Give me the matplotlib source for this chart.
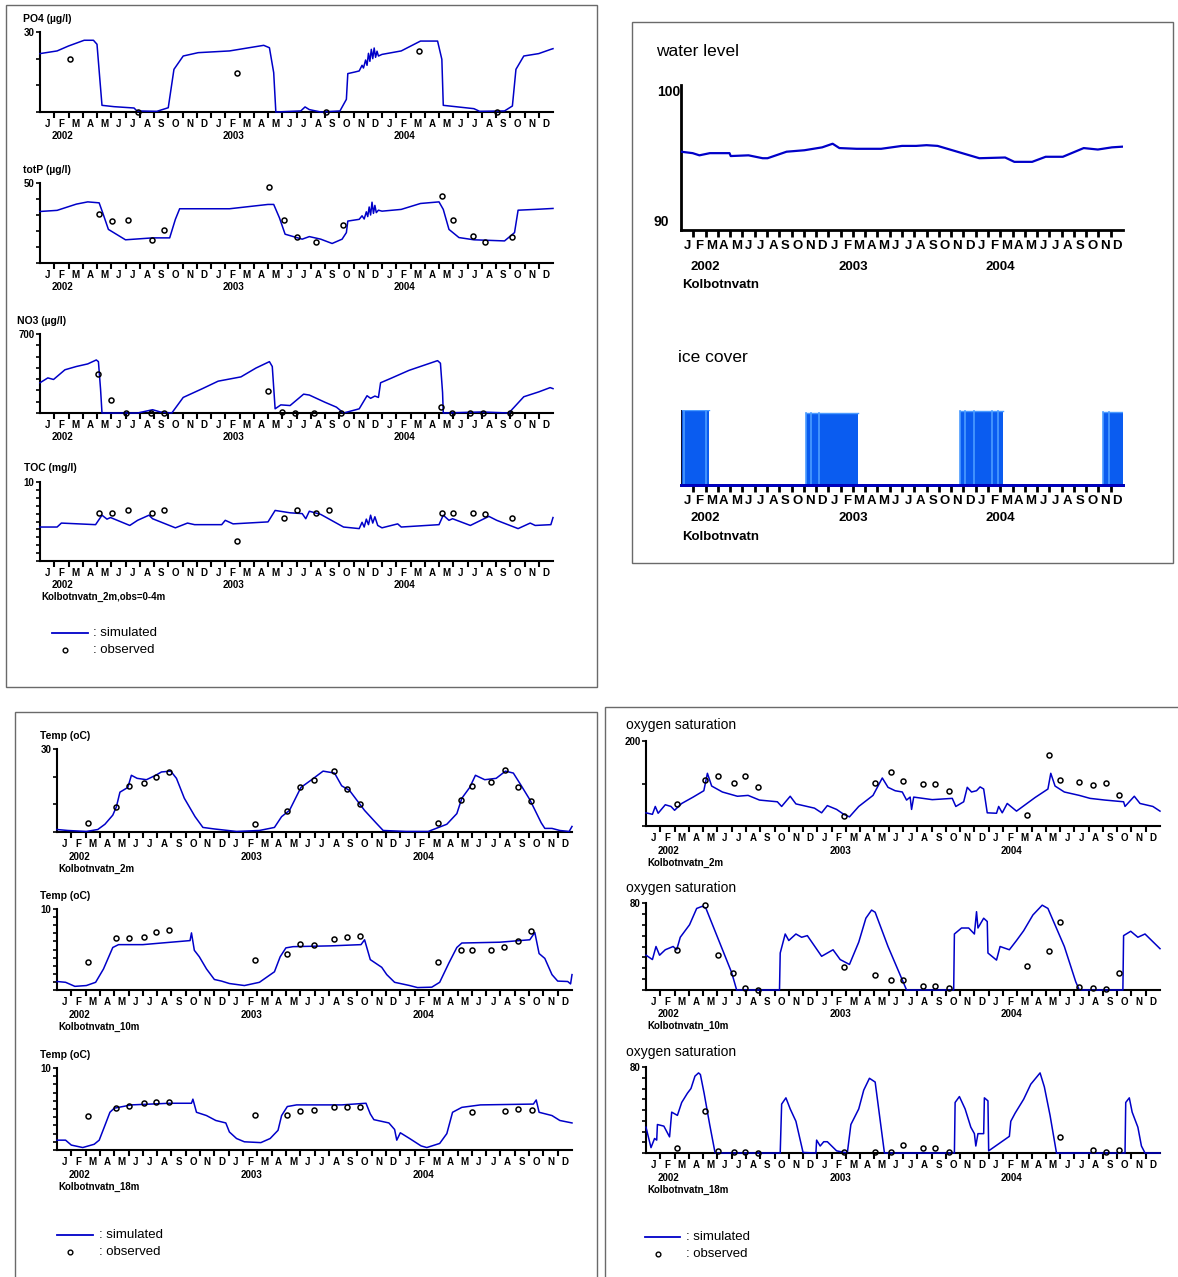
import matplotlib
matplotlib.use("Agg")
import matplotlib.pyplot as plt
from matplotlib.patches import Rectangle
from matplotlib.lines import Line2D
import numpy as np

# ── Canvas ────────────────────────────────────────────────────────────────────
W, H = 1178, 1277
BLUE = "#0000C8"
ICE = "#0A5CF0"
ICE_LIGHT = "#4C9CFF"
FONT = ["Liberation Sans", "DejaVu Sans"]
NARROW = ["Liberation Sans Narrow", "Liberation Sans", "DejaVu Sans"]

MONTHS = list("JFMAMJJASOND") * 3
YEARS = ["2002", "2003", "2004"]

# ── Data (time in months since 1 Jan 2002) ───────────────────────────────────
PO4_T = [0, 1.2, 2.0, 3.1, 3.75, 4.0, 4.2, 4.35, 5.2, 6.6, 6.8, 8.2, 9.0, 9.4, 10.05,
         11.1, 13.3, 15.7, 16.1, 16.4, 16.55, 18.3, 18.6, 18.9, 19.7, 21.05, 21.5, 21.6,
         22.1, 22.4, 22.6, 22.7, 22.85, 22.95, 23.05, 23.15, 23.25, 23.35, 23.45, 23.55,
         23.65, 23.75, 24.0, 25.35, 26.7, 27.9, 28.2, 28.3, 30.45, 30.85, 32.6, 33.15,
         33.4, 33.95, 35.0, 35.85, 36.0]
PO4_V = [21.9, 22.9, 24.75, 26.9, 26.9, 25.4, 12.25, 2.5, 2.0, 1.5, 0.4, 0.25, 1.6, 16,
         21, 22.25, 22.9, 25, 24.1, 14.75, 0, 0.4, 1.9, 0.9, 0, 0.4, 4.75, 14.4,
         15.0, 15.4, 17.5, 16.5, 19.5, 17.5, 22.0, 19.0, 23.5, 20.0, 24.0, 20.5,
         22.8, 21.0, 21.6, 22.9, 26.6, 26.6, 19.75, 2.5, 1.25, 0.25, 0.4, 2.25,
         16, 21, 21.9, 23.5, 23.75]
PO4_OBS_T = [2.1, 6.85, 13.8, 20.1, 26.6, 32.05]
PO4_OBS_V = [20, 0, 14.75, 0, 23, 0]

TOTP_T = [0, 1.2, 2.55, 3.35, 4.15, 4.4, 4.8, 6.0, 7.9, 9.1, 9.5, 9.8, 13.3, 16.0, 16.4,
          16.8, 17.2, 18.4, 18.9, 19.7, 20.5, 21.2, 21.5, 21.6, 22.4, 22.6, 22.75, 22.9,
          23.0, 23.1, 23.2, 23.3, 23.4, 23.5, 23.6, 23.75, 24.0, 25.35, 26.7, 28.0, 28.3,
          28.7, 29.4, 30.45, 32.6, 33.3, 33.55, 34.75, 36.0]
TOTP_V = [32.2, 32.9, 36.8, 38.2, 37.6, 31.4, 21, 14.5, 15.7, 15.7, 27.3, 33.9, 33.9,
          36.6, 36.6, 28.3, 18, 14.9, 16.5, 14.9, 12.2, 14.9, 19, 26.2, 27.3, 29.5, 27.5,
          32, 29, 35, 30, 38, 31, 36, 31.5, 33, 32.4, 33.5, 37.2, 38.2, 33.5, 21, 15.9,
          14.5, 13.8, 19, 33, 33.5, 34.1]
TOTP_OBS_T = [4.15, 5.05, 6.2, 7.85, 8.7, 16.1, 17.1, 18.0, 19.4, 21.25, 28.2, 29.0,
              30.4, 31.25, 33.1]
TOTP_OBS_V = [30.4, 26, 27, 14.5, 20.5, 47.3, 27, 16, 13.2, 23.8, 41.7, 27, 17, 13.2, 16]

NO3_T = [0, 0.55, 0.95, 1.75, 2.55, 3.35, 3.95, 4.1, 4.25, 4.35, 6.85, 7.9, 8.45, 9.25,
         10.05, 11.4, 12.5, 14.1, 15.15, 16.1, 16.3, 16.5, 16.9, 17.55, 18.5, 18.9, 20.0,
         20.8, 21.3, 22.4, 22.95, 23.2, 23.5, 23.75, 23.9, 24.55, 25.9, 27.9, 28.1, 28.25,
         28.3, 31.0, 32.9, 33.95, 35.0, 35.8, 36.0]
NO3_V = [268, 311, 297, 383, 412, 435, 470, 455, 210, 0, 0, 29, 9, 0, 138, 216, 282, 320,
         398, 455, 412, 37, 72, 66, 167, 159, 95, 52, 0, 37, 153, 130, 150, 138, 268, 303,
         378, 464, 441, 182, 0, 9, 0, 144, 187, 225, 216]
NO3_OBS_T = [4.1, 4.95, 6.05, 7.8, 8.7, 16.0, 17.0, 17.9, 19.2, 21.1, 28.15, 28.9, 30.2,
             31.1, 33.0]
NO3_OBS_V = [349, 118, 0, 0, 0, 193, 9, 0, 0, 0, 49, 0, 0, 0, 0]

TOC_T = [0, 1.2, 1.5, 3.9, 4.35, 4.7, 4.95, 6.3, 6.85, 7.65, 7.9, 9.5, 10.35, 10.85,
         12.75, 13.0, 13.55, 16.0, 16.5, 17.55, 18.4, 18.65, 18.9, 19.7, 21.3, 22.4, 22.6,
         22.75, 22.9, 23.05, 23.2, 23.35, 23.5, 23.7, 24.0, 25.1, 25.35, 28.0, 28.3, 28.7,
         28.95, 30.2, 31.5, 32.05, 33.55, 34.4, 34.75, 35.85, 36.0]
TOC_V = [4.3, 4.3, 4.8, 4.6, 5.8, 5.3, 5.5, 4.5, 5.15, 5.8, 5.35, 4.2, 4.8, 4.6, 4.6,
         5.15, 4.7, 4.95, 6.4, 6.1, 6.0, 5.35, 6.3, 5.9, 4.3, 4.1, 4.9, 4.3, 5.3, 4.6, 5.8,
         4.8, 5.6, 4.5, 4.2, 4.7, 4.3, 4.6, 5.8, 5.15, 5.35, 4.5, 5.65, 5.15, 4.1, 4.8, 4.5,
         4.6, 5.5]
TOC_OBS_T = [4.15, 5.05, 6.2, 7.85, 8.7, 13.85, 17.1, 18.0, 19.4, 20.25, 28.2, 29.0, 30.4,
             31.25, 33.1]
TOC_OBS_V = [6.1, 6.1, 6.5, 6.1, 6.45, 2.5, 5.45, 6.5, 6.05, 6.5, 6.05, 6.1, 6.1, 6.0, 5.45]

WL_T = [0, 0.95, 1.5, 2.35, 3.95, 4.05, 5.5, 6.65, 7.05, 8.6, 10.05, 11.5, 12.35, 12.9,
        14.3, 16.3, 18.0, 19.15, 20.0, 20.9, 22.3, 24.3, 26.4, 27.15, 28.6, 29.7, 31.1,
        32.8, 33.95, 35.1, 36.0]
WL_V = [95.4, 95.3, 95.15, 95.3, 95.3, 95.1, 95.15, 94.95, 94.95, 95.4, 95.5, 95.7, 95.95,
        95.65, 95.6, 95.6, 95.8, 95.8, 95.85, 95.8, 95.45, 94.95, 95.0, 94.7, 94.7, 95.05,
        95.05, 95.65, 95.55, 95.7, 95.75]

ICE_START = [0.0, 10.2, 22.7, 34.35]
ICE_END = [2.3, 14.4, 26.25, 36.0]
ICE_LEVEL = [1.0, 0.96, 0.99, 0.975]
ICE_STRIPES = [0.25, 2.0, 10.55, 11.25, 23.15, 23.9, 25.35, 25.8, 34.85]

T2_T = [0, 0.75, 2.05, 2.85, 3.35, 3.9, 4.15, 4.4, 4.95, 5.2, 5.6, 6.25, 6.9, 7.3, 7.95,
        8.35, 8.9, 9.65, 10.2, 11.0, 12.55, 14.15, 15.2, 15.7, 16.25, 17.05, 17.8, 18.6,
        19.4, 19.9, 20.45, 21.5, 22.3, 22.8, 24.4, 25.95, 27.25, 27.95, 28.3, 28.85, 29.25,
        29.9, 30.7, 31.35, 31.9, 32.4, 33.05, 33.85, 34.1, 34.6, 35.15, 35.8, 36.0]
T2_V = [0.9, 0.55, 0.2, 0.9, 2.8, 6.1, 9.1, 14.4, 16.1, 20.5, 19.4, 18.9, 20.5, 21.7, 22.0,
        19.4, 12.2, 5.55, 1.65, 1.1, 0.2, 0.55, 1.65, 5.55, 7.8, 16.1, 18.9, 22.0, 21.3,
        16.7, 15.0, 7.8, 3.3, 0.55, 0.2, 0.2, 2.8, 6.65, 12.2, 16.1, 20.5, 18.9, 19.4, 22.0,
        21.3, 17.2, 11.7, 3.3, 1.3, 1.3, 0.55, 0.2, 2.0]
T2_OBS_T = [2.15, 4.15, 5.0, 6.1, 6.9, 7.85, 13.85, 16.05, 17.0, 17.95, 19.35, 20.25, 21.2,
            26.6, 28.25, 29.0, 30.35, 31.35, 32.25, 33.1]
T2_OBS_V = [3.1, 9.1, 16.7, 17.6, 19.8, 21.7, 2.9, 7.55, 16.4, 18.7, 21.9, 15.55, 10.2,
            3.1, 11.7, 16.7, 18.0, 22.4, 16.1, 11.1]

T10_T = [0, 0.6, 1.25, 2.05, 2.7, 3.25, 3.9, 4.3, 6.0, 7.3, 9.3, 9.4, 9.6, 9.95, 10.45,
         11.0, 11.5, 12.05, 13.1, 14.15, 15.2, 15.6, 16.0, 16.5, 19.15, 21.25, 21.5, 21.9,
         22.7, 23.05, 23.6, 24.65, 25.2, 26.2, 26.75, 27.4, 27.95, 28.3, 30.95, 33.05, 33.4,
         33.7, 34.1, 34.6, 35.0, 35.7, 35.9, 36.0]
T10_V = [1.05, 0.95, 0.45, 0.55, 0.95, 2.6, 5.25, 5.6, 5.6, 5.8, 6.1, 7.05, 4.9, 4.1, 2.6,
         1.3, 1.1, 0.8, 0.55, 0.95, 2.25, 4.1, 5.2, 5.35, 5.45, 5.6, 6.2, 3.75, 2.8, 1.9,
         0.95, 0.55, 0.3, 0.35, 0.95, 3.35, 5.25, 5.8, 5.9, 6.2, 7.1, 4.5, 3.9, 1.9, 1.1,
         1.05, 0.75, 1.9]
T10_OBS_T = [2.15, 4.15, 5.0, 6.1, 6.9, 7.85, 13.85, 16.05, 17.0, 17.95, 19.35, 20.25,
             21.2, 26.6, 28.25, 29.0, 30.35, 31.25, 32.25, 33.1]
T10_OBS_V = [3.5, 6.45, 6.45, 6.55, 7.1, 7.4, 3.65, 4.5, 5.7, 5.55, 6.3, 6.55, 6.65, 3.4,
             4.9, 4.95, 4.95, 5.3, 6.05, 7.3]

T18_T = [0, 0.6, 1.0, 1.8, 2.6, 2.95, 3.35, 3.7, 4.0, 5.2, 7.85, 9.4, 9.5, 9.75, 10.45,
         11.1, 11.8, 12.05, 12.55, 13.1, 14.25, 14.9, 15.45, 15.7, 16.1, 16.75, 19.9, 21.6,
         21.9, 22.15, 23.2, 23.6, 23.75, 24.0, 24.65, 25.45, 25.85, 26.75, 27.25, 27.65,
         28.3, 29.6, 33.3, 33.5, 33.7, 34.6, 35.15, 36.0]
T18_V = [1.2, 1.2, 0.6, 0.3, 0.7, 1.2, 3.0, 4.6, 5.1, 5.5, 5.7, 5.7, 6.2, 4.6, 4.2, 3.6,
         3.3, 2.2, 1.4, 1.0, 0.9, 1.4, 2.4, 4.2, 5.3, 5.5, 5.5, 5.7, 4.4, 3.7, 3.3, 2.5,
         1.2, 2.1, 1.4, 0.5, 0.3, 0.8, 2.0, 4.6, 5.2, 5.5, 5.6, 6.1, 4.6, 4.2, 3.6, 3.3]
T18_OBS_T = [2.15, 4.15, 5.0, 6.1, 6.9, 7.85, 13.85, 16.05, 17.0, 17.95, 19.35, 20.25,
             21.15, 29.0, 31.35, 32.25, 33.2]
T18_OBS_V = [4.1, 5.1, 5.4, 5.7, 5.8, 5.8, 4.3, 4.3, 4.8, 4.9, 5.2, 5.2, 5.3, 4.6, 4.7,
             5.0, 4.9]

O2_2_T = [0, 0.45, 0.65, 0.85, 1.35, 1.75, 2.0, 2.5, 3.3, 4.05, 4.3, 4.6, 5.35, 6.4, 7.15,
          7.95, 9.2, 9.5, 10.1, 10.5, 11.8, 12.3, 12.7, 13.35, 13.85, 14.25, 14.9, 15.9,
          16.55, 16.95, 17.45, 17.95, 18.25, 18.5, 18.6, 18.75, 20.05, 21.45, 21.7, 22.25,
          22.5, 22.8, 23.15, 23.4, 23.65, 23.9, 24.55, 24.7, 24.95, 25.3, 25.95, 27.25,
          28.15, 28.35, 28.65, 29.3, 30.35, 31.1, 32.15, 33.45, 33.55, 34.2, 34.6, 35.5, 36.0]
O2_2_V = [31, 27.5, 46, 30, 50, 46, 37, 53, 68, 83, 124, 94, 80, 70, 72, 61, 57, 46, 70, 52,
          42, 31, 48, 39, 27.5, 21.5, 46, 72, 113, 91, 83, 80, 61, 68, 39, 68, 62, 65, 46,
          57, 91, 80, 83, 92, 87, 31, 30, 46, 31, 53, 35, 67, 87, 124, 94, 80, 72, 65, 61,
          57, 46, 70, 53, 46, 35]
O2_2_OBS_T = [2.15, 4.15, 5.05, 6.15, 6.95, 7.85, 13.85, 16.05, 17.15, 18.0, 19.4, 20.25,
              21.2, 26.65, 28.2, 29.0, 30.35, 31.3, 32.25, 33.1]
O2_2_OBS_V = [51, 109, 117, 102, 117, 91, 24, 102, 128, 106, 100, 100, 82, 26, 167, 108,
              104, 96, 101, 72]

O2_10_T = [0, 0.45, 0.7, 0.95, 1.35, 1.9, 2.15, 2.4, 3.05, 3.55, 3.95, 4.2, 5.1, 6.0, 6.35,
           9.35, 9.4, 9.75, 10.0, 10.5, 10.9, 11.3, 12.3, 13.1, 13.6, 14.25, 14.9, 15.4,
           15.8, 16.05, 16.95, 18.25, 21.55, 21.6, 22.1, 22.6, 23.0, 23.15, 23.25, 23.65,
           23.9, 23.95, 24.55, 24.8, 25.45, 25.95, 26.45, 27.1, 27.75, 28.15, 29.3, 30.1,
           30.35, 33.4, 33.45, 33.95, 34.45, 34.95, 36.0]
O2_10_V = [32, 28, 40, 32, 37, 40, 37, 48.5, 60, 75, 77, 75, 45.5, 16, 0, 0, 34, 51.5, 45.5,
           51.5, 48.5, 50, 31, 37, 28, 23.5, 44, 66, 73.5, 71.5, 40, 0, 0, 51.5, 57, 57, 51.5,
           72, 57, 66, 63, 34, 27.5, 40, 37, 45.5, 54.5, 69, 78, 75, 40, 7.5, 0, 0, 50, 54,
           48.5, 51.5, 38]
O2_10_OBS_T = [2.15, 4.15, 5.05, 6.1, 6.95, 7.85, 13.85, 16.05, 17.15, 18.0, 19.4, 20.25,
               21.2, 26.65, 28.2, 29.0, 30.35, 31.3, 32.25, 33.1]
O2_10_OBS_V = [37, 78, 32, 16, 2, 0, 21, 14, 9, 9, 3.5, 3.5, 2, 22, 36, 62.5, 3, 2, 0.5, 16]

O2_18_T = [0, 0.35, 0.6, 0.75, 0.8, 1.25, 1.65, 1.8, 2.2, 2.5, 2.9, 3.15, 3.43, 3.68, 3.81,
           4.07, 4.46, 4.84, 9.4, 9.5, 9.8, 10.1, 10.5, 11.0, 11.9, 11.95, 12.2, 12.45,
           12.7, 13.35, 14.1, 14.35, 14.9, 15.25, 15.65, 16.05, 16.7, 21.6, 21.65, 21.95,
           22.35, 22.75, 23.0, 23.1, 23.25, 23.65, 23.7, 23.95, 24.0, 25.45, 25.55, 25.85,
           26.45, 26.95, 27.6, 27.9, 28.3, 28.75, 33.55, 33.6, 33.85, 34.05, 34.45, 34.7,
           34.95, 36.0]
O2_18_V = [24, 5, 13.5, 12, 26.5, 25, 15, 38, 35, 47, 55.6, 60, 71.5, 74.5, 73, 55.6, 26.5,
           0, 0, 45.5, 51.3, 41, 29.5, 0.5, 0, 12, 6.5, 10.5, 10.5, 2, 0, 26.5, 41, 58.5,
           69.5, 66, 0, 0, 47, 52.5, 41, 24, 18, 6.5, 18, 18, 51.3, 48.5, 2, 15.5, 29.5, 37,
           50, 64, 74.5, 61.5, 35, 0, 0, 47, 51.3, 38, 24, 6.5, 0, 0]
O2_18_OBS_T = [2.15, 4.15, 5.05, 6.15, 6.95, 7.85, 13.85, 16.05, 17.15, 18.0, 19.4, 20.25,
               21.2, 29.0, 31.3, 32.25, 33.1]
O2_18_OBS_V = [5, 39, 2, 0.5, 1, 0, 1, 1, 1, 7, 4.5, 4.5, 1, 15, 2.5, 1, 2.5]

# ── Figure ────────────────────────────────────────────────────────────────────
fig = plt.figure(figsize=(W / 100, H / 100), dpi=100)
fig.patch.set_facecolor("white")


def fx(x):
    return x / W


def fy(y):
    return 1 - y / H


def ftext(x, y, s, size=7.5, weight="bold", ha="left", family=FONT):
    fig.text(fx(x), fy(y), s, fontsize=size, fontweight=weight, ha=ha, va="center",
             family=family)


def box(x0, y0, x1, y1):
    fig.add_artist(Rectangle((fx(x0), fy(y1)), (x1 - x0) / W, (y1 - y0) / H,
                             transform=fig.transFigure, fill=False,
                             ec="#6a6a6a", lw=1.0))


def time_axis(rect, ylim, yticks, top_label, big=False):
    x0, y0, x1, y1 = rect
    ax = fig.add_axes([fx(x0), fy(y1), (x1 - x0) / W, (y1 - y0) / H])
    ax.set_xlim(0, 36)
    ax.set_ylim(*ylim)
    ax.patch.set_alpha(0)
    for s in ("top", "right"):
        ax.spines[s].set_visible(False)
    lw = 2.0 if big else 1.5
    for s in ("left", "bottom"):
        ax.spines[s].set_linewidth(lw)
    ax.set_xticks(np.arange(1, 36))
    ax.set_xticklabels([])
    ax.set_xticks(np.arange(36) + 0.5, minor=True)
    if big:
        ax.set_xticklabels(MONTHS, minor=True, fontsize=9.5, fontweight="bold",
                           family=NARROW)
        ax.tick_params(axis="x", which="major", length=5, width=2)
        ax.tick_params(axis="x", which="minor", length=0, pad=7)
    else:
        ax.set_xticklabels(MONTHS, minor=True, fontsize=7, fontweight="bold",
                           family=FONT)
        ax.tick_params(axis="x", which="major", length=4, width=1.5)
        ax.tick_params(axis="x", which="minor", length=0, pad=5)
    ax.set_yticks(yticks)
    if yticks:
        ax.set_yticklabels([""] * (len(yticks) - 1) + [top_label], fontsize=7,
                           fontweight="bold", family=FONT)
    ax.tick_params(axis="y", length=3, width=1.2, pad=1)
    return ax


def years(ax, dy, offset=1.6, size=7, station=None, sdy=None, family=FONT):
    for k, yr in enumerate(YEARS):
        ax.annotate(yr, xy=(12 * k + offset, 0), xycoords=("data", "axes fraction"),
                    xytext=(0, -dy), textcoords="offset pixels", ha="center",
                    va="center", fontsize=size, fontweight="bold", family=family)
    if station:
        ax.annotate(station, xy=(0, 0), xycoords="axes fraction",
                    xytext=(1, -sdy), textcoords="offset pixels", ha="left",
                    va="center", fontsize=size, fontweight="bold", family=family)


def series(ax, t, v, ot=None, ov=None):
    ax.plot(t, v, color=BLUE, lw=1.1, clip_on=False, zorder=3)
    if ot is not None:
        ax.plot(ot, ov, "o", ms=3.6, mfc="none", mec="black", mew=1.1,
                clip_on=False, zorder=4)


def legend(x0, x1, y, tx):
    fig.add_artist(Line2D([fx(x0), fx(x1)], [fy(y), fy(y)], color=BLUE, lw=1.3,
                          transform=fig.transFigure))
    fig.add_artist(Line2D([fx((x0 + x1) / 2 - 5)], [fy(y + 17)], marker="o", ms=3.4,
                          mfc="none", mec="black", mew=1.0, transform=fig.transFigure))
    ftext(tx, y, ": simulated", size=9.5, weight="normal")
    ftext(tx, y + 17, ": observed", size=9.5, weight="normal")


# ── Panel 1: surface chemistry ───────────────────────────────────────────────
box(6, 5, 597, 687)

ax = time_axis((40, 32, 553, 112), (0, 30), [0, 10, 20, 30], "30")
series(ax, PO4_T, PO4_V, PO4_OBS_T, PO4_OBS_V)
years(ax, 24)
ftext(23, 19, "PO4 (µg/l)")

ax = time_axis((40, 183, 553, 263), (0, 50), [0, 10, 20, 30, 40, 50], "50")
series(ax, TOTP_T, TOTP_V, TOTP_OBS_T, TOTP_OBS_V)
years(ax, 24)
ftext(23, 170, "totP (µg/l)")

ax = time_axis((40, 334, 553, 413), (0, 700), list(range(0, 701, 100)), "700")
series(ax, NO3_T, NO3_V, NO3_OBS_T, NO3_OBS_V)
years(ax, 24)
ftext(17, 321, "NO3 (µg/l)")

ax = time_axis((40, 482, 553, 561), (0, 10), list(range(0, 11)), "10")
series(ax, TOC_T, TOC_V, TOC_OBS_T, TOC_OBS_V)
years(ax, 24, station="Kolbotnvatn_2m,obs=0-4m", sdy=36)
ftext(24, 468, "TOC (mg/l)")

legend(52, 88, 633, 93)

# ── Panel 2: water level and ice cover ───────────────────────────────────────
box(632, 22, 1173, 563)

ax = time_axis((681, 85, 1123, 230), (90, 100), [], "", big=True)
ax.plot(WL_T, WL_V, color=BLUE, lw=1.6, zorder=3)
years(ax, 37, offset=2.0, size=9.5, station="Kolbotnvatn", sdy=55, family=NARROW)
ftext(656, 51, "water level", size=12.5, weight="normal", family=NARROW)
ftext(680, 92, "100", size=10, ha="right", family=NARROW)
ftext(669, 222, "90", size=10, ha="right", family=NARROW)

ax = time_axis((681, 410, 1123, 485), (0, 1.0), [], "", big=True)
ax.spines["left"].set_visible(False)
for s, e, lev in zip(ICE_START, ICE_END, ICE_LEVEL):
    ax.fill_between([s, e], 0, lev, color=ICE, lw=0, zorder=2)
    ax.plot([s, s], [0, lev], color=ICE_LIGHT, lw=1.2, zorder=2)
    for st in ICE_STRIPES:
        if s < st < e:
            ax.plot([st, st], [0, lev], color=ICE_LIGHT, lw=1.2, zorder=2)
    ax.plot([s, e], [lev * 0.995, lev * 0.995], color=ICE_LIGHT, lw=1.0, zorder=2)
ax.plot([0, 0], [0, ICE_LEVEL[0]], color="#101030", lw=1.5, zorder=3)
ax.plot([0, 36], [0, 0], color=BLUE, lw=2, zorder=3, clip_on=False)
years(ax, 33, offset=2.0, size=9.5, station="Kolbotnvatn", sdy=52, family=NARROW)
ftext(678, 358, "ice cover", size=12.5, weight="normal", family=NARROW)

# ── Panel 3: temperature ─────────────────────────────────────────────────────
box(15, 712, 597, 1290)

ax = time_axis((57, 749, 572, 832), (0, 30), [0, 10, 20, 30], "30")
series(ax, T2_T, T2_V, T2_OBS_T, T2_OBS_V)
years(ax, 25, station="Kolbotnvatn_2m", sdy=37)
ftext(40, 736, "Temp (oC)")

ax = time_axis((57, 909, 572, 990), (0, 10), list(range(0, 11)), "10")
series(ax, T10_T, T10_V, T10_OBS_T, T10_OBS_V)
years(ax, 25, station="Kolbotnvatn_10m", sdy=37)
ftext(40, 896, "Temp (oC)")

ax = time_axis((57, 1068, 572, 1150), (0, 10), list(range(0, 11)), "10")
series(ax, T18_T, T18_V, T18_OBS_T, T18_OBS_V)
years(ax, 25, station="Kolbotnvatn_18m", sdy=37)
ftext(40, 1055, "Temp (oC)")

legend(57, 93, 1235, 99)

# ── Panel 4: oxygen saturation ───────────────────────────────────────────────
box(605, 707, 1190, 1290)

ax = time_axis((646, 741, 1160, 826), (0, 200), [0, 100, 200], "200")
series(ax, O2_2_T, O2_2_V, O2_2_OBS_T, O2_2_OBS_V)
years(ax, 25, station="Kolbotnvatn_2m", sdy=37)
ftext(626, 725, "oxygen saturation", size=10, weight="normal")

ax = time_axis((646, 903, 1160, 990), (0, 80), list(range(0, 81, 10)), "80")
series(ax, O2_10_T, O2_10_V, O2_10_OBS_T, O2_10_OBS_V)
years(ax, 24, station="Kolbotnvatn_10m", sdy=36)
ftext(626, 888, "oxygen saturation", size=10, weight="normal")

ax = time_axis((646, 1067, 1160, 1153), (0, 80), list(range(0, 81, 10)), "80")
series(ax, O2_18_T, O2_18_V, O2_18_OBS_T, O2_18_OBS_V)
years(ax, 25, station="Kolbotnvatn_18m", sdy=37)
ftext(626, 1052, "oxygen saturation", size=10, weight="normal")

legend(645, 680, 1237, 686)

fig.savefig("out.png", dpi=100, facecolor="white")
